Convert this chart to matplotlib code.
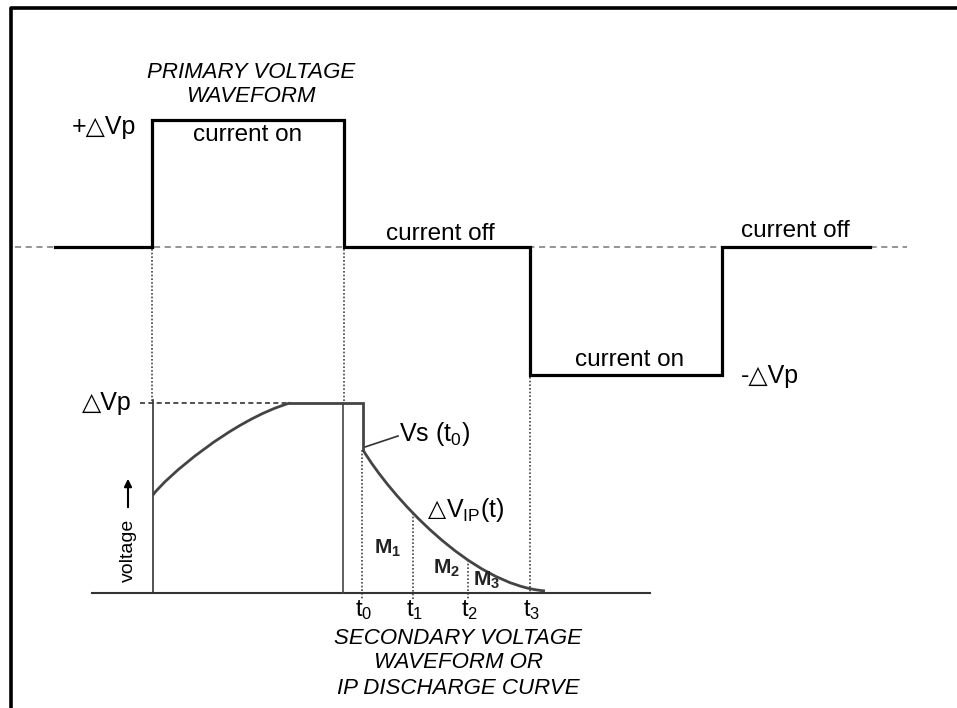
import matplotlib.pyplot as plt
import numpy as np
from matplotlib.patches import PathPatch
from matplotlib.path import Path

plt.rcParams["font.family"] = ["Liberation Sans", "DejaVu Sans"]
plt.rcParams["mathtext.fontset"] = "custom"
plt.rcParams["mathtext.rm"] = "Liberation Sans"
plt.rcParams["mathtext.it"] = "Liberation Sans:italic"
plt.rcParams["mathtext.bf"] = "Liberation Sans:bold"

# Primary waveform: time (px) vs voltage in units of dVp
primary_t = [55, 152, 152, 344, 344, 530, 530, 722, 722, 870]
primary_v = [0, 0, 1, 1, 0, 0, -1, -1, 0, 0]

# Secondary waveform as bezier control points (time, fraction of dVp)
charge_t = [153, 165, 232, 290]
charge_v = [0.516, 0.605, 0.911, 1.0]
plateau_t = [290, 363, 363]
plateau_v = [1.0, 1.0, 0.753]
decay_t = [363, 390, 470, 545]
decay_v = [0.753, 0.516, 0.042, 0.011]

# sample window times
window_t = [362, 413, 468, 530]
window_labels = ["t$_0$", "t$_1$", "t$_2$", "t$_3$"]
window_names = ["$\\mathbf{M_1}$", "$\\mathbf{M_2}$", "$\\mathbf{M_3}$"]

# layout of the two waveforms on the page (pixels)
P0, PAMP = 247, 127.5
S0, SAMP = 593, 190


def py(v):
    return P0 - PAMP * v


def sy(v):
    return S0 - SAMP * np.asarray(v)


def bezier(ts, vs):
    verts = list(zip(ts, sy(vs)))
    return Path(verts, [Path.MOVETO, Path.CURVE4, Path.CURVE4, Path.CURVE4])


def bezier_y_at(ts, vs, x):
    u = np.linspace(0, 1, 400)[:, None]
    p = np.array(list(zip(ts, sy(vs))))
    pts = ((1 - u) ** 3) * p[0] + 3 * u * (1 - u) ** 2 * p[1] + 3 * u ** 2 * (1 - u) * p[2] + u ** 3 * p[3]
    return np.interp(x, pts[:, 0], pts[:, 1])


fig = plt.figure(figsize=(9.57, 7.08), dpi=100)
ax = fig.add_axes([0, 0, 1, 1])
ax.set_xlim(0, 957)
ax.set_ylim(708, 0)
ax.axis("off")

# frame
ax.plot([11, 11, 957], [708, 8, 8], color="black", lw=2.6, solid_capstyle="butt")

# primary
ax.plot([15, 907], [P0, P0], color="#777777", lw=1.1, ls=(0, (4, 3)), zorder=1)
ax.plot(primary_t, [py(v) for v in primary_v], color="black", lw=2.3, zorder=3,
        solid_joinstyle="miter")

dot = dict(color="#444444", lw=1.2, ls=(0, (1, 1.2)), zorder=1)
ax.plot([152, 152], [P0 + 2, sy(1)], **dot)
ax.plot([344, 344], [P0 + 2, sy(1)], **dot)
ax.plot([530, 530], [py(-1) + 2, S0], **dot)

# secondary
sec = dict(color="#444444", lw=2.0, zorder=3)
ax.plot([92, 650], [S0, S0], color="#333333", lw=1.5, zorder=2)
ax.plot([153, 153], [sy(1) - 3, S0], color="#333333", lw=1.2, zorder=2)
ax.plot([343, 343], [sy(1), S0], color="#444444", lw=1.2, zorder=2)
ax.plot([140, 290], [sy(1), sy(1)], color="#333333", lw=1.2, ls=(0, (3, 2)))
ax.add_patch(PathPatch(bezier(charge_t, charge_v), fill=False, ec=sec["color"],
                       lw=sec["lw"], zorder=3))
ax.plot(plateau_t, sy(plateau_v), solid_joinstyle="miter", **sec)
ax.add_patch(PathPatch(bezier(decay_t, decay_v), fill=False, ec=sec["color"],
                       lw=sec["lw"], zorder=3))

for t in window_t[:3]:
    top = sy(decay_v[0]) if t <= decay_t[0] else bezier_y_at(decay_t, decay_v, t)
    ax.plot([t, t], [top, S0 + 7], **dot)

for t, lab in zip(window_t, window_labels):
    ax.text(t + 2, S0 + 17, lab, ha="center", va="center", fontsize=17)

ax.text(388, 548, window_names[0], ha="center", va="center", fontsize=15, color="#222222")
ax.text(447, 568, window_names[1], ha="center", va="center", fontsize=15, color="#222222")
ax.text(487, 580, window_names[2], ha="center", va="center", fontsize=15, color="#222222")

# leader for Vs(t0)
ax.plot([365, 398], [447, 436], color="#333333", lw=1.2)
ax.text(399, 434, "Vs (t$_0$)", ha="left", va="center", fontsize=18)
ax.text(446, 510, "\u25B3", ha="right", va="center", fontsize=17)
ax.text(446, 510, "V$_{\\mathrm{IP}}$(t)", ha="left", va="center", fontsize=18)

# labels
ax.text(251, 73, "PRIMARY VOLTAGE", ha="center", va="center", fontsize=16, style="italic")
ax.text(251, 97, "WAVEFORM", ha="center", va="center", fontsize=16, style="italic")
ax.text(104, 127, "+\u25B3Vp", ha="center", va="center", fontsize=18)
ax.text(248, 135, "current on", ha="center", va="center", fontsize=17.5)
ax.text(440, 234, "current off", ha="center", va="center", fontsize=17.5)
ax.text(795, 231, "current off", ha="center", va="center", fontsize=17.5)
ax.text(630, 360, "current on", ha="center", va="center", fontsize=17.5)
ax.text(770, 376, "-\u25B3Vp", ha="center", va="center", fontsize=18)
ax.text(107, 403, "\u25B3Vp", ha="center", va="center", fontsize=18)

ax.text(128, 550, "voltage", ha="center", va="center", fontsize=14, rotation=90)
ax.annotate("", xy=(128, 476), xytext=(128, 510),
            arrowprops=dict(arrowstyle="-|>", color="black", lw=1.5, mutation_scale=11))

ax.text(458, 638, "SECONDARY VOLTAGE", ha="center", va="center", fontsize=16, style="italic")
ax.text(458, 663, "WAVEFORM OR", ha="center", va="center", fontsize=16, style="italic")
ax.text(458, 688, "IP DISCHARGE CURVE", ha="center", va="center", fontsize=16, style="italic")

fig.savefig("out.png", dpi=100)
